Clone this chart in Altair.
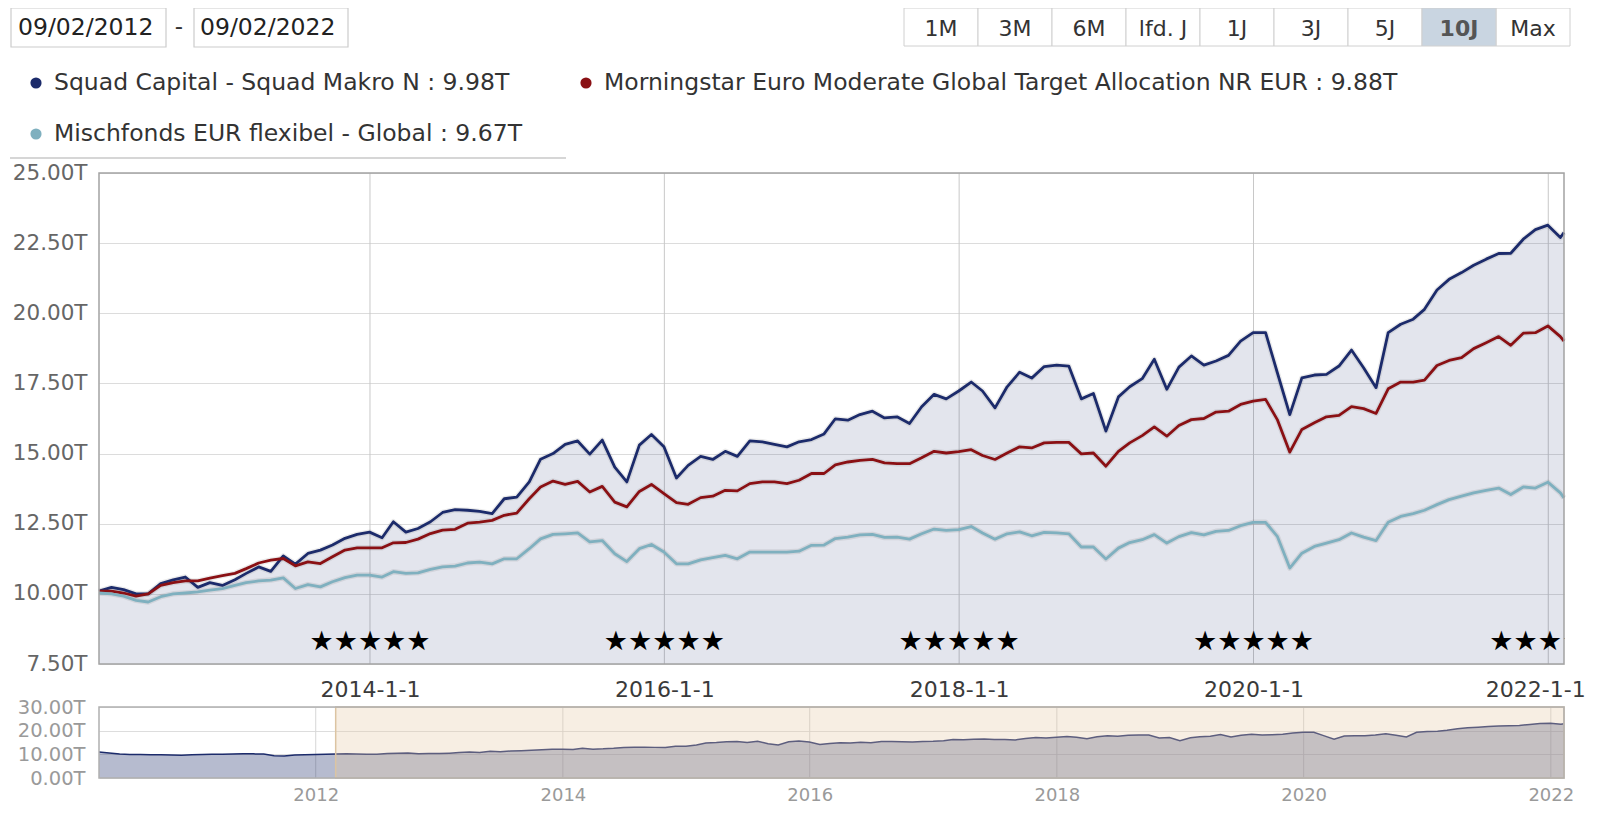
import altair as alt
import pandas as pd

# ---------------- values ----------------
first_month_end = "2012-02-29"
last_date = "2022-02-09"
dates = [d.strftime("%Y-%m-%d") for d in
         pd.date_range(first_month_end, periods=120, freq=pd.offsets.MonthEnd())] + [last_date]

squad = [
    10.10, 10.23, 10.15, 10.00, 10.00, 10.37, 10.50, 10.60, 10.23, 10.40,
    10.30, 10.50, 10.73, 10.96, 10.80, 11.35, 11.06, 11.44, 11.56, 11.74,
    11.98, 12.12, 12.20, 12.00, 12.57, 12.20, 12.33, 12.57, 12.90, 13.00,
    12.98, 12.94, 12.86, 13.39, 13.45, 13.99, 14.80, 15.00, 15.33, 15.45,
    14.98, 15.48, 14.52, 13.99, 15.30, 15.68, 15.24, 14.13, 14.58, 14.90,
    14.79, 15.08, 14.90, 15.45, 15.42, 15.33, 15.24, 15.42, 15.50, 15.70,
    16.24, 16.19, 16.39, 16.51, 16.27, 16.31, 16.07, 16.67, 17.11, 16.95,
    17.23, 17.55, 17.23, 16.63, 17.38, 17.90, 17.69, 18.10, 18.15, 18.12,
    16.95, 17.14, 15.80, 17.02, 17.38, 17.67, 18.36, 17.29, 18.08, 18.48,
    18.15, 18.30, 18.50, 19.01, 19.31, 19.31, 17.89, 16.39, 17.70, 17.80,
    17.82, 18.12, 18.69, 18.06, 17.35, 19.31, 19.61, 19.79, 20.14, 20.83,
    21.21, 21.45, 21.71, 21.93, 22.13, 22.14, 22.64, 22.98, 23.14, 22.70,
    22.88,
]
morningstar = [
    10.10, 10.10, 10.03, 9.92, 10.00, 10.30, 10.40, 10.46, 10.46, 10.56,
    10.65, 10.73, 10.90, 11.10, 11.20, 11.26, 11.00, 11.14, 11.08, 11.32,
    11.56, 11.64, 11.64, 11.64, 11.82, 11.83, 11.95, 12.15, 12.27, 12.30,
    12.52, 12.56, 12.62, 12.80, 12.88, 13.39, 13.81, 14.02, 13.90, 14.01,
    13.63, 13.83, 13.27, 13.10, 13.65, 13.90, 13.57, 13.25, 13.19, 13.43,
    13.48, 13.69, 13.67, 13.93, 13.99, 13.99, 13.93, 14.05, 14.29, 14.29,
    14.60, 14.70, 14.76, 14.79, 14.67, 14.64, 14.64, 14.85, 15.08, 15.02,
    15.07, 15.14, 14.93, 14.79, 15.02, 15.24, 15.20, 15.38, 15.40, 15.40,
    14.99, 15.02, 14.55, 15.08, 15.38, 15.64, 15.95, 15.62, 16.00, 16.21,
    16.25, 16.48, 16.51, 16.75, 16.87, 16.93, 16.21, 15.05, 15.86, 16.10,
    16.31, 16.36, 16.67, 16.60, 16.43, 17.31, 17.55, 17.55, 17.62, 18.14,
    18.32, 18.42, 18.74, 18.95, 19.17, 18.86, 19.29, 19.31, 19.55, 19.17,
    19.01,
]
mischfonds = [
    10.03, 10.00, 9.92, 9.77, 9.71, 9.90, 10.00, 10.03, 10.07, 10.13,
    10.19, 10.30, 10.40, 10.46, 10.49, 10.57, 10.19, 10.33, 10.25, 10.43,
    10.58, 10.67, 10.67, 10.60, 10.79, 10.73, 10.75, 10.87, 10.96, 10.99,
    11.10, 11.13, 11.07, 11.25, 11.25, 11.61, 11.96, 12.12, 12.14, 12.17,
    11.85, 11.90, 11.43, 11.15, 11.61, 11.76, 11.49, 11.07, 11.07, 11.21,
    11.29, 11.37, 11.25, 11.49, 11.49, 11.49, 11.49, 11.52, 11.73, 11.74,
    11.97, 12.02, 12.10, 12.12, 12.01, 12.02, 11.95, 12.14, 12.31, 12.26,
    12.29, 12.40, 12.17, 11.95, 12.14, 12.21, 12.07, 12.19, 12.17, 12.14,
    11.67, 11.67, 11.24, 11.63, 11.83, 11.93, 12.11, 11.81, 12.04, 12.18,
    12.10, 12.23, 12.26, 12.43, 12.55, 12.55, 12.05, 10.92, 11.45, 11.69,
    11.81, 11.93, 12.17, 12.02, 11.90, 12.55, 12.76, 12.86, 12.98, 13.18,
    13.36, 13.48, 13.60, 13.69, 13.77, 13.54, 13.81, 13.77, 13.98, 13.60,
    13.42,
]

nav_first_month_end = "2010-03-31"
nav_pre_dates = [d.strftime("%Y-%m-%d") for d in
                 pd.date_range(nav_first_month_end, periods=23, freq=pd.offsets.MonthEnd())]
nav_pre_values = [11.0, 10.6, 10.1, 9.9, 9.9, 9.8, 9.8, 9.7, 9.6, 9.8, 9.9, 10.0,
                  10.0, 10.1, 10.2, 10.2, 10.1, 9.4, 9.3, 9.7, 9.8, 9.9, 10.0]

series_names = [
    "Squad Capital - Squad Makro N",
    "Morningstar Euro Moderate Global Target Allocation NR EUR",
    "Mischfonds EUR flexibel - Global",
]
legend_values = ["9.98T", "9.88T", "9.67T"]
series_colors = ["#1c2b6b", "#8a1014", "#7fb0bf"]

y_ticks = [7.5, 10.0, 12.5, 15.0, 17.5, 20.0, 22.5, 25.0]
x_ticks = ["2014-01-01", "2016-01-01", "2018-01-01", "2020-01-01", "2022-01-01"]
star_dates = x_ticks
star_labels = ["★★★★★", "★★★★★", "★★★★★", "★★★★★", "★★★★"]   # last group runs into the plot edge
star_level = 8.3
nav_y_ticks = [0, 10, 20, 30]
nav_x_ticks = ["2012-01-01", "2014-01-01", "2016-01-01", "2018-01-01", "2020-01-01", "2022-01-01"]
buttons = ["1M", "3M", "6M", "lfd. J", "1J", "3J", "5J", "10J", "Max"]
active_button = "10J"
date_from = "09/02/2012"
date_to = "09/02/2022"

# ---------------- layout ----------------
FONT = "DejaVu Sans"
W, H = 1581, 797
PL, PR, PT, PB = 91, 1556, 165, 656     # main plot area
NT, NB = 699, 770                        # navigator plot area
navy = series_colors[0]
STAR_SIZE = 27
STAR_HALF = 59                           # half the width of a five-star group


def dt(s):
    y, m, d = (int(p) for p in s.split("-"))
    return alt.DateTime(year=y, month=m, date=d, utc=True)


# ---------------- main chart ----------------
mx_scale = alt.Scale(type="utc", domain=[dt(dates[0]), dt(dates[-1])], range=[PL, PR])
my_scale = alt.Scale(domain=[y_ticks[0], y_ticks[-1]], range=[PB, PT], zero=False, nice=False)
mx_axis = alt.Axis(orient="bottom", offset=PB - H, values=[dt(d) for d in x_ticks],
                   labelExpr="utcFormat(datum.value, '%Y-%-m-%-d')",
                   labelOffset={"condition": {"test": "year(datum.value) >= 2022", "value": -13},
                                "value": 0},
                   title=None, domain=False, ticks=False, labelPadding=15, labelFontSize=22,
                   labelColor="#3a3a3a", labelFlush=False, labelOverlap=False, grid=False)
my_axis = alt.Axis(orient="left", offset=-PL, values=y_ticks,
                   labelExpr="format(datum.value, '.2f') + 'T'", title=None,
                   domain=False, ticks=False, labelPadding=12, labelFontSize=21.5,
                   labelColor="#666666", labelOverlap=False,
                   grid=True, gridColor="#dcdcdc", gridWidth=1)


def mx(field="date"):
    return alt.X(f"{field}:T", scale=mx_scale, axis=mx_axis)


def my(field="value"):
    return alt.Y(f"{field}:Q", scale=my_scale, axis=my_axis)


squad_df = pd.DataFrame({"date": dates, "value": squad})
lines_df = pd.DataFrame({
    "date": dates * 3,
    "value": squad + morningstar + mischfonds,
    "series": [n for n in series_names for _ in dates],
})

vgrid = alt.Chart(pd.DataFrame({"date": x_ticks})).mark_rule(color="#c8c8c8", strokeWidth=1).encode(
    x=mx(), y=alt.YDatum(y_ticks[-1], scale=my_scale, axis=my_axis), y2=alt.datum(y_ticks[0]))
area = alt.Chart(squad_df).mark_area(color=navy, fillOpacity=0.12).encode(
    x=mx(), y=my(), y2=alt.datum(y_ticks[0]))
shadow = alt.Chart(lines_df).mark_line(color="#000000", strokeWidth=5.5, opacity=0.08,
                                       strokeJoin="round").encode(x=mx(), y=my(), detail="series:N")
lines = alt.Chart(lines_df).mark_line(strokeWidth=2.8, strokeJoin="round").encode(
    x=mx(), y=my(),
    color=alt.Color("series:N", scale=alt.Scale(domain=series_names, range=series_colors), legend=None))
stars_df = pd.DataFrame({"date": star_dates, "label": star_labels})
stars_full = alt.Chart(stars_df.iloc[:-1]).mark_text(
    fontSize=STAR_SIZE, color="#000000", baseline="middle").encode(
    x=mx(), y=alt.YDatum(star_level, scale=my_scale, axis=my_axis), text="label:N")
stars_edge = alt.Chart(stars_df.iloc[-1:]).mark_text(
    fontSize=STAR_SIZE, color="#000000", baseline="middle", align="left", dx=-STAR_HALF).encode(
    x=mx(), y=alt.YDatum(star_level, scale=my_scale, axis=my_axis), text="label:N")
mask = alt.Chart(pd.DataFrame({"k": [0]})).mark_rect(color="white").encode(
    x=alt.value(PR + 1), x2=alt.value(W), y=alt.value(610), y2=alt.value(656))
frame_df = pd.DataFrame({"x0": [dates[0]], "x1": [dates[-1]], "y0": [y_ticks[0]], "y1": [y_ticks[-1]]})
frame = alt.Chart(frame_df).mark_rect(fillOpacity=0, stroke="#a3a3a3", strokeWidth=1.5).encode(
    x=mx("x0"), x2="x1:T", y=my("y0"), y2="y1:Q")

main_layer = alt.layer(vgrid, area, shadow, lines, stars_full, stars_edge, mask, frame)

# ---------------- navigator ----------------
nx_scale = alt.Scale(type="utc", domain=[dt(nav_pre_dates[0]), dt(dates[-1])], range=[PL, PR])
ny_scale = alt.Scale(domain=[nav_y_ticks[0], nav_y_ticks[-1]], range=[NB, NT], nice=False)
nx_axis = alt.Axis(orient="bottom", offset=NB - H, values=[dt(d) for d in nav_x_ticks],
                   labelExpr="utcFormat(datum.value, '%Y')", title=None, domain=False, ticks=False,
                   labelPadding=8, labelFontSize=18, labelColor="#9a9a9a", labelFlush=False,
                   labelOverlap=False, grid=False)
ny_axis = alt.Axis(orient="left", offset=-PL, values=nav_y_ticks,
                   labelExpr="format(datum.value, '.2f') + 'T'", title=None, domain=False,
                   ticks=False, labelPadding=14, labelFontSize=19.5, labelColor="#9a9a9a",
                   labelOverlap=False, grid=True, gridColor="#dddddd", gridWidth=1)


def nx(field="date"):
    return alt.X(f"{field}:T", scale=nx_scale, axis=nx_axis)


def ny(field="value"):
    return alt.Y(f"{field}:Q", scale=ny_scale, axis=ny_axis)


nav_df = pd.DataFrame({"date": nav_pre_dates + dates, "value": nav_pre_values + squad})
nav_vgrid = alt.Chart(pd.DataFrame({"date": nav_x_ticks})).mark_rule(color="#d6d6d6", strokeWidth=1).encode(
    x=nx(), y=alt.YDatum(nav_y_ticks[-1], scale=ny_scale, axis=ny_axis), y2=alt.datum(nav_y_ticks[0]))
nav_area = alt.Chart(nav_df).mark_area(color=navy, fillOpacity=0.32).encode(x=nx(), y=ny())
nav_line = alt.Chart(nav_df).mark_line(color=navy, strokeWidth=1.5).encode(x=nx(), y=ny())
sel_df = pd.DataFrame({"x0": [dates[0]], "x1": [dates[-1]], "y0": [nav_y_ticks[0]], "y1": [nav_y_ticks[-1]]})
nav_sel = alt.Chart(sel_df).mark_rect(fill="#e6caa8", fillOpacity=0.32, stroke="#dcc4a2",
                                      strokeWidth=1.5).encode(x=nx("x0"), x2="x1:T", y=ny("y0"), y2="y1:Q")
nav_frame_df = pd.DataFrame({"x0": [nav_pre_dates[0]], "x1": [dates[-1]],
                             "y0": [nav_y_ticks[0]], "y1": [nav_y_ticks[-1]]})
nav_frame = alt.Chart(nav_frame_df).mark_rect(fillOpacity=0, stroke="#b0b0b0", strokeWidth=1.5).encode(
    x=nx("x0"), x2="x1:T", y=ny("y0"), y2="y1:Q")

nav_layer = alt.layer(nav_vgrid, nav_area, nav_line, nav_sel, nav_frame)

# ---------------- header: date range, buttons, legend ----------------
header_layers = []
for label, bx0, bx1, tx in [(date_from, 3, 158, 10), (date_to, 186, 340, 192)]:
    ddf = pd.DataFrame({"label": [label]})
    header_layers.append(alt.Chart(ddf).mark_rect(fill="white", stroke="#cccccc", strokeWidth=1.2).encode(
        x=alt.value(bx0), x2=alt.value(bx1), y=alt.value(0), y2=alt.value(39)))
    header_layers.append(alt.Chart(ddf).mark_text(align="left", baseline="middle", fontSize=23.5,
                                                  color="#222222").encode(
        x=alt.value(tx), y=alt.value(20), text="label:N"))
header_layers.append(alt.Chart(pd.DataFrame({"label": ["-"]})).mark_text(
    baseline="middle", fontSize=23, color="#333333").encode(x=alt.value(171), y=alt.value(19), text="label:N"))

btn_df = pd.DataFrame({"label": buttons})
bx = alt.X("label:N", scale=alt.Scale(domain=buttons, range=[896, 1562], paddingInner=0, paddingOuter=0),
           axis=None)
active_test = f"datum.label == '{active_button}'"
inactive_test = f"datum.label != '{active_button}'"
header_layers.append(alt.Chart(btn_df).transform_filter(inactive_test).mark_rect(
    fill="white", stroke="#d0d0d0", strokeWidth=1).encode(x=bx, y=alt.value(0), y2=alt.value(38)))
header_layers.append(alt.Chart(btn_df).transform_filter(active_test).mark_rect(
    fill="#c9d5e1", stroke="#d0d0d0", strokeWidth=1).encode(x=bx, y=alt.value(0), y2=alt.value(38)))
header_layers.append(alt.Chart(btn_df).transform_filter(inactive_test).mark_text(
    fontSize=22, baseline="middle", color="#333333").encode(x=bx, y=alt.value(21), text="label:N"))
header_layers.append(alt.Chart(btn_df).transform_filter(active_test).mark_text(
    fontSize=22, baseline="middle", fontWeight="bold", color="#555555").encode(
    x=bx, y=alt.value(21), text="label:N"))

legend_dot_x = [28, 578, 28]
legend_text_x = [46, 596, 46]
legend_row_y = [75, 75, 126]
for i, name in enumerate(series_names):
    ldf = pd.DataFrame({"label": [f"{name} : {legend_values[i]}"]})
    header_layers.append(alt.Chart(ldf).mark_circle(size=125, opacity=1, color=series_colors[i]).encode(
        x=alt.value(legend_dot_x[i]), y=alt.value(legend_row_y[i])))
    header_layers.append(alt.Chart(ldf).mark_text(align="left", baseline="middle", fontSize=23.5,
                                                  color="#333333").encode(
        x=alt.value(legend_text_x[i]), y=alt.value(legend_row_y[i]), text="label:N"))
header_layers.append(alt.Chart(pd.DataFrame({"k": [0]})).mark_rule(color="#c8c8c8", strokeWidth=1.5).encode(
    x=alt.value(2), x2=alt.value(558), y=alt.value(150)))

header = alt.layer(*header_layers)

chart = (
    alt.layer(header, main_layer, nav_layer)
    .resolve_scale(x="independent", y="independent")
    .properties(width=W, height=H, padding=0, autosize=alt.AutoSizeParams(type="none"))
    .configure(font=FONT)
    .configure_view(strokeWidth=0)
)

chart.save("out.html", embed_options={"renderer": "svg", "actions": False})
